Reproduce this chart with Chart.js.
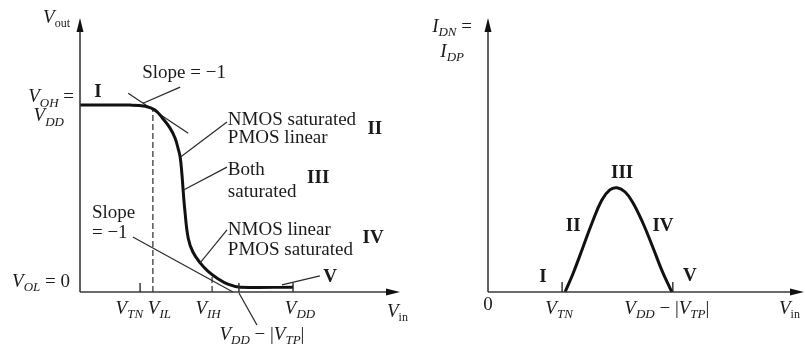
<!DOCTYPE html>
<html>
<head>
<meta charset="utf-8">
<script src="https://cdn.jsdelivr.net/npm/chart.js@4.4.0/dist/chart.umd.min.js"></script>
<style>
  html, body { margin: 0; padding: 0; background: #fff; overflow: hidden; }
  #wrap { position: relative; width: 805px; height: 345px; }
  canvas { position: absolute; left: 0; top: 0; }
</style>
</head>
<body>
<div id="wrap">
  <canvas id="vtc" width="805" height="345"></canvas>
  <canvas id="cur" width="805" height="345"></canvas>
</div>
<script>
'use strict'

// left: voltage transfer curve (Vin, Vout in volts, VDD = 5)
const vtcVin  = [0, 1.17, 1.53, 1.76, 1.95, 2.11, 2.23, 2.30, 2.35, 2.39, 2.42, 2.46, 2.54, 2.65, 2.82, 3.00, 3.22, 3.47, 3.76, 5.0];
const vtcVout = [5.0, 5.0, 4.97, 4.87, 4.63, 4.39, 4.12, 3.85, 3.61, 3.18, 2.73, 2.19, 1.44, 1.07, 0.78, 0.56, 0.37, 0.21, 0.13, 0.13];

// the two "slope = -1" tangents
const tanHiX = [1.13, 2.54];
const tanHiY = [5.32, 4.25];
const tanLoX = [1.24, 3.59];
const tanLoY = [1.47, 0];

// marked input levels: VTN, VIL, VIH, VDD-|VTP|, VDD
const vtcTicks = [1.41, 1.71, 3.10, 3.73, 5.0];
const vilOut = 4.89;   // Vout where VIL dashed line meets curve
const vihOut = 0.40;

// right: drain current vs Vin
const curVin = [1.81, 2.00, 2.23, 2.44, 2.67, 2.86, 3.03, 3.22, 3.40, 3.64, 3.87, 4.08, 4.27, 4.32];
const curId  = [0, 0.18, 0.43, 0.66, 0.88, 0.98, 1.00, 0.96, 0.86, 0.66, 0.43, 0.21, 0.04, 0];
const curTicks = [1.74, 4.34];   // VTN, VDD-|VTP|

const SERIF = '"Liberation Serif", "DejaVu Serif", serif';
const FONTS = {
  i: 'italic 19px ' + SERIF,
  r: '19px ' + SERIF,
  b: 'bold 19px ' + SERIF,
  si: 'italic 13px ' + SERIF,
  sr: '12px ' + SERIF,
};
const INK = '#1a1a1a';

const pts = (xs, ys) => xs.map((x, i) => ({ x: x, y: ys[i] }));

// text with subscripts: parts = [[text, fontKey], ...]
function rich(ctx, parts, x, y, align) {
  let w = 0;
  parts.forEach(p => { ctx.font = FONTS[p[1]]; w += ctx.measureText(p[0]).width; });
  let cx = align === 'right' ? x - w : align === 'center' ? x - w / 2 : x;
  ctx.textBaseline = 'middle';
  ctx.textAlign = 'left';
  ctx.fillStyle = INK;
  parts.forEach(p => {
    ctx.font = FONTS[p[1]];
    const dy = p[1][0] === 's' ? 6 : 0;
    ctx.fillText(p[0], cx, y + dy);
    cx += ctx.measureText(p[0]).width;
  });
}

function seg(ctx, x1, y1, x2, y2, w, color) {
  ctx.save();
  ctx.strokeStyle = color || '#2a2a2a';
  ctx.lineWidth = w || 1.2;
  ctx.beginPath();
  ctx.moveTo(x1, y1);
  ctx.lineTo(x2, y2);
  ctx.stroke();
  ctx.restore();
}

function axes(ctx, ca, x0, y0) {
  ctx.save();
  ctx.strokeStyle = '#3a3a3a';
  ctx.lineWidth = 1.6;
  ctx.beginPath();
  ctx.moveTo(x0, y0);
  ctx.lineTo(x0, ca.top + 6);
  ctx.moveTo(x0, y0);
  ctx.lineTo(ca.right - 6, y0);
  ctx.stroke();
  ctx.fillStyle = '#111';
  ctx.beginPath();
  ctx.moveTo(x0, ca.top);
  ctx.lineTo(x0 - 3.5, ca.top + 14);
  ctx.lineTo(x0 + 3.5, ca.top + 14);
  ctx.closePath();
  ctx.fill();
  ctx.beginPath();
  ctx.moveTo(ca.right, y0);
  ctx.lineTo(ca.right - 14, y0 - 3.5);
  ctx.lineTo(ca.right - 14, y0 + 3.5);
  ctx.closePath();
  ctx.fill();
  ctx.restore();
}

const leftFigure = {
  id: 'leftFigure',
  afterDatasetsDraw(chart) {
    const ctx = chart.ctx, ca = chart.chartArea;
    const X = v => chart.scales.x.getPixelForValue(v);
    const Y = v => chart.scales.y.getPixelForValue(v);
    const x0 = X(0), y0 = Y(0);
    axes(ctx, ca, x0, y0);

    // short ticks at VTN, VDD-|VTP|, VDD
    [0, 3, 4].forEach(i => seg(ctx, X(vtcTicks[i]), y0, X(vtcTicks[i]), y0 - 9, 1.4));

    // axis labels
    rich(ctx, [['V', 'i'], ['out', 'sr']], x0 - 10, ca.top, 'right');
    rich(ctx, [['V', 'i'], ['OH', 'si'], [' =', 'r']], x0 - 6, Y(5) - 8, 'right');
    rich(ctx, [['V', 'i'], ['DD', 'si']], x0 - 16, Y(5) + 11, 'right');
    rich(ctx, [['V', 'i'], ['OL', 'si'], [' = 0', 'r']], x0 - 10, y0 - 10, 'right');

    const ty = y0 + 17;
    rich(ctx, [['V', 'i'], ['TN', 'si']], X(vtcTicks[0]) + 3, ty, 'right');
    rich(ctx, [['V', 'i'], ['IL', 'si']], X(vtcTicks[1]) - 5, ty, 'left');
    rich(ctx, [['V', 'i'], ['IH', 'si']], X(vtcTicks[2]) - 4, ty, 'center');
    rich(ctx, [['V', 'i'], ['DD', 'si']], X(vtcTicks[4]) + 7, ty, 'center');
    rich(ctx, [['V', 'i'], ['DD', 'si'], [' − |', 'r'], ['V', 'i'], ['TP', 'si'], ['|', 'r']], X(vtcTicks[3]) + 23, y0 + 43, 'center');
    seg(ctx, X(vtcTicks[3]), y0 + 1, X(vtcTicks[3]) + 18, y0 + 33);
    rich(ctx, [['V', 'i'], ['in', 'sr']], ca.right - 13, ty + 3, 'left');

    // region labels and call-outs
    rich(ctx, [['I', 'b']], X(0.42), Y(5.35), 'center');
    rich(ctx, [['Slope = −1', 'r']], X(1.46), Y(5.86), 'left');
    seg(ctx, X(2.35), Y(5.48), X(1.48), Y(5.05));

    rich(ctx, [['NMOS saturated', 'r']], X(3.47), Y(4.60), 'left');
    rich(ctx, [['PMOS linear', 'r']], X(3.47), Y(4.12), 'left');
    rich(ctx, [['II', 'b']], X(6.92), Y(4.36), 'center');
    seg(ctx, X(3.45), Y(4.55), X(2.36), Y(3.61));

    rich(ctx, [['Both', 'r']], X(3.47), Y(3.26), 'left');
    rich(ctx, [['saturated', 'r']], X(3.47), Y(2.67), 'left');
    rich(ctx, [['III', 'b']], X(5.59), Y(3.05), 'center');
    seg(ctx, X(3.45), Y(3.34), X(2.43), Y(2.73));

    rich(ctx, [['Slope', 'r']], X(0.28), Y(2.11), 'left');
    rich(ctx, [['= −1', 'r']], X(0.28), Y(1.58), 'left');

    rich(ctx, [['NMOS linear', 'r']], X(3.47), Y(1.66), 'left');
    rich(ctx, [['PMOS saturated', 'r']], X(3.47), Y(1.12), 'left');
    rich(ctx, [['IV', 'b']], X(6.88), Y(1.44), 'center');
    seg(ctx, X(3.45), Y(1.66), X(2.82), Y(0.78));

    rich(ctx, [['V', 'b']], X(5.87), Y(0.40), 'center');
    seg(ctx, X(5.63), Y(0.43), X(4.74), Y(0.19));
  }
};

const rightFigure = {
  id: 'rightFigure',
  afterDatasetsDraw(chart) {
    const ctx = chart.ctx, ca = chart.chartArea;
    const X = v => chart.scales.x.getPixelForValue(v);
    const Y = v => chart.scales.y.getPixelForValue(v);
    const x0 = X(0), y0 = Y(0);
    axes(ctx, ca, x0, y0);
    curTicks.forEach(t => seg(ctx, X(t), y0, X(t), y0 - 10, 1.4));

    rich(ctx, [['I', 'i'], ['DN', 'si'], [' =', 'r']], x0 - 16, ca.top + 9, 'right');
    rich(ctx, [['I', 'i'], ['DP', 'si']], x0 - 24, ca.top + 34, 'right');
    rich(ctx, [['0', 'r']], x0, y0 + 13, 'center');

    const ty = y0 + 17;
    rich(ctx, [['V', 'i'], ['TN', 'si']], X(curTicks[0]) - 3, ty, 'center');
    rich(ctx, [['V', 'i'], ['DD', 'si'], [' − |', 'r'], ['V', 'i'], ['TP', 'si'], ['|', 'r']], X(curTicks[1]) - 6, ty, 'center');
    rich(ctx, [['V', 'i'], ['in', 'sr']], ca.right - 25, ty, 'left');

    rich(ctx, [['I', 'b']], X(1.29), Y(0.14), 'center');
    rich(ctx, [['II', 'b']], X(2.00), Y(0.63), 'center');
    rich(ctx, [['III', 'b']], X(3.15), Y(1.14), 'center');
    rich(ctx, [['IV', 'b']], X(4.11), Y(0.63), 'center');
    rich(ctx, [['V', 'b']], X(4.74), Y(0.15), 'center');
  }
};

const baseOpts = (xmax, ymax, pad) => ({
  responsive: false,
  animation: false,
  devicePixelRatio: 1,
  layout: { padding: pad },
  plugins: { legend: { display: false }, tooltip: { enabled: false } },
  events: [],
  scales: {
    x: { type: 'linear', display: false, min: 0, max: xmax },
    y: { type: 'linear', display: false, min: 0, max: ymax },
  },
});

const lineSet = (data, width, color, dash, tension) => ({
  data: data,
  showLine: true,
  borderColor: color,
  borderWidth: width,
  borderDash: dash || [],
  borderJoinStyle: 'round',
  pointRadius: 0,
  fill: false,
  clip: false,
  tension: tension || 0,
});

new Chart(document.getElementById('vtc'), {
  type: 'scatter',
  data: {
    datasets: [
      lineSet(pts(vtcVin, vtcVout), 3, '#111', null, 0.4),
      lineSet(pts(tanHiX, tanHiY), 1.2, '#2a2a2a'),
      lineSet(pts(tanLoX, tanLoY), 1.2, '#2a2a2a'),
      lineSet(pts([vtcTicks[1], vtcTicks[1]], [0, vilOut]), 1.5, '#555', [6, 3]),
      lineSet(pts([vtcTicks[2], vtcTicks[2]], [0, vihOut]), 1.5, '#555', [6, 3]),
    ]
  },
  options: baseOpts(7.51, 7.33, { left: 80, right: 405, top: 18, bottom: 53 }),
  plugins: [leftFigure],
});

new Chart(document.getElementById('cur'), {
  type: 'scatter',
  data: {
    datasets: [
      lineSet(pts(curVin, curId), 3, '#111', null, 0.4),
    ]
  },
  options: baseOpts(7.42, 2.63, { left: 488, right: 1, top: 18, bottom: 53 }),
  plugins: [rightFigure],
});
</script>
</body>
</html>
